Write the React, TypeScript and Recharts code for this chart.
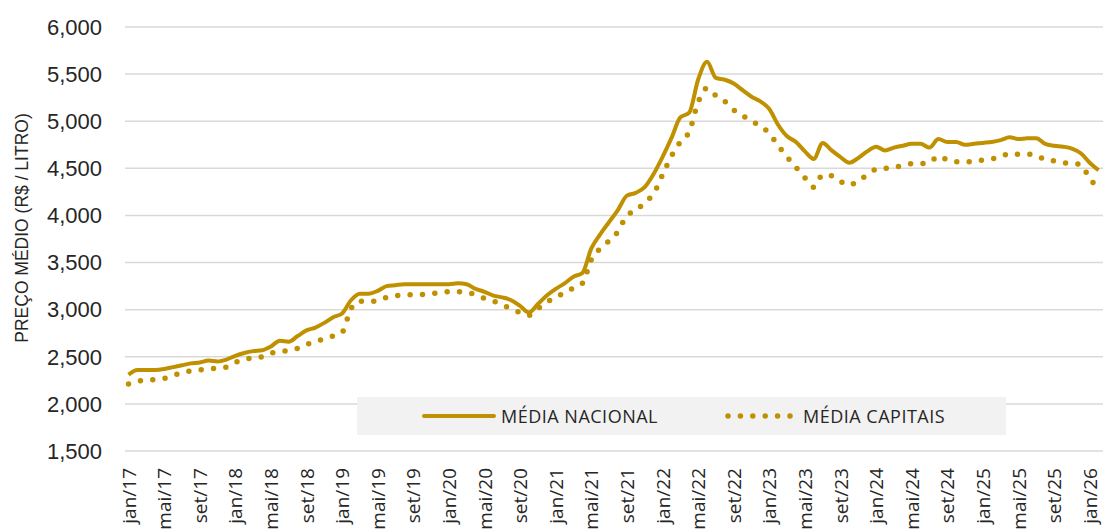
import React from 'react';
import { LineChart, Line, XAxis, YAxis, CartesianGrid, Legend } from 'recharts';

const monthNames = ['jan', 'fev', 'mar', 'abr', 'mai', 'jun', 'jul', 'ago', 'set', 'out', 'nov', 'dez'];
const years = ['17', '18', '19', '20', '21', '22', '23', '24', '25', '26'];

// jan/17 .. fev/26
const categories: string[] = [];
years.forEach((yy) => monthNames.forEach((m) => categories.push(`${m}/${yy}`)));
categories.splice(110);

const mediaNacional = [
  2.31, 2.36, 2.36, 2.36, 2.37, 2.39, 2.41, 2.43, 2.44, 2.46, 2.45, 2.47,
  2.51, 2.54, 2.56, 2.57, 2.61, 2.67, 2.66, 2.72, 2.78, 2.81, 2.86, 2.92,
  2.96, 3.1, 3.17, 3.17, 3.2, 3.25, 3.26, 3.27, 3.27, 3.27, 3.27, 3.27,
  3.27, 3.28, 3.27, 3.22, 3.19, 3.15, 3.13, 3.1, 3.04, 2.97, 3.06, 3.15,
  3.22, 3.28, 3.35, 3.39, 3.65, 3.8, 3.93, 4.06, 4.21, 4.24, 4.3, 4.44,
  4.62, 4.82, 5.04, 5.09, 5.44, 5.63, 5.46, 5.44, 5.4, 5.33, 5.26, 5.21,
  5.13, 4.96, 4.84, 4.78, 4.68, 4.6, 4.77, 4.69, 4.62, 4.56, 4.61, 4.68,
  4.73, 4.69, 4.72, 4.74, 4.76, 4.76, 4.72, 4.81, 4.78, 4.78, 4.75, 4.76,
  4.77, 4.78, 4.8, 4.83, 4.81, 4.82, 4.82, 4.76, 4.74, 4.73, 4.71, 4.66,
  4.56, 4.48,
];

const mediaCapitais = [
  2.21, 2.24, 2.25, 2.26, 2.27, 2.3, 2.33, 2.35, 2.36, 2.37, 2.38, 2.39,
  2.44, 2.47, 2.49, 2.5, 2.54, 2.55, 2.57, 2.59, 2.63, 2.66, 2.69, 2.72,
  2.76, 3.01, 3.09, 3.08, 3.1, 3.13, 3.15, 3.15, 3.16, 3.16, 3.17, 3.18,
  3.19, 3.19, 3.18, 3.16, 3.12, 3.09, 3.05, 3.01, 2.97, 2.94, 3.01, 3.08,
  3.13, 3.18, 3.23, 3.28, 3.53, 3.65, 3.73, 3.83, 4.0, 4.05, 4.14, 4.23,
  4.43, 4.63, 4.78, 4.89, 5.2, 5.35, 5.27, 5.21, 5.12, 5.06, 5.0, 4.95,
  4.87, 4.74, 4.62, 4.51, 4.4, 4.3, 4.43, 4.42, 4.36, 4.32, 4.37, 4.43,
  4.49, 4.5, 4.51, 4.53, 4.55, 4.55, 4.56, 4.63, 4.59, 4.57, 4.57, 4.57,
  4.59, 4.6, 4.62, 4.66, 4.65, 4.65, 4.64, 4.59, 4.58, 4.56, 4.55, 4.54,
  4.39, 4.29,
];

const yTicks = [1.5, 2, 2.5, 3, 3.5, 4, 4.5, 5, 5.5, 6];

const data = categories.map((mes, i) => ({
  mes,
  nacional: mediaNacional[i],
  capitais: mediaCapitais[i],
}));

const GOLD = '#BF9000';
const TEXT = '#262626';

const XTick = (props: any) => {
  const { x, y, payload } = props;
  return (
    <text
      x={x}
      y={y}
      transform={`rotate(-90 ${x} ${y})`}
      textAnchor="end"
      dominantBaseline="central"
      fill={TEXT}
      fontSize={19}
      fontFamily="'Open Sans', sans-serif"
    >
      {payload.value}
    </text>
  );
};

const YTitle = () => (
  <text
    x={22}
    y={228}
    transform="rotate(-90 22 228)"
    textAnchor="middle"
    dominantBaseline="central"
    fill={TEXT}
    fontSize={17.5}
    fontFamily="'Liberation Sans', Arial, sans-serif"
  >
    PREÇO MÉDIO (R$ / LITRO)
  </text>
);

const LegendBox = () => (
  <div
    style={{
      position: 'relative',
      width: 649,
      height: 38,
      background: '#F2F2F2',
      fontFamily: "'Open Sans', sans-serif",
      fontSize: 18,
      letterSpacing: 0.5,
      color: TEXT,
    }}
  >
    <svg width={649} height={38} style={{ position: 'absolute', left: 0, top: 0 }}>
      <line x1={67} y1={19} x2={137} y2={19} stroke={GOLD} strokeWidth={4} strokeLinecap="round" />
      <line
        x1={371}
        y1={19}
        x2={434}
        y2={19}
        stroke={GOLD}
        strokeWidth={5.5}
        strokeLinecap="round"
        strokeDasharray="0 12.4"
      />
    </svg>
    <span style={{ position: 'absolute', left: 144, top: 6, lineHeight: '26px' }}>MÉDIA NACIONAL</span>
    <span style={{ position: 'absolute', left: 446, top: 6, lineHeight: '26px' }}>MÉDIA CAPITAIS</span>
  </div>
);

export default function App() {
  return (
    <div style={{ position: 'absolute', left: 0, top: 0, width: 1103, height: 529, background: '#fff' }}>
      <LineChart width={1103} height={529} data={data} margin={{ top: 27, right: 0, bottom: 0, left: 0 }}>
        <CartesianGrid vertical={false} stroke="#D9D9D9" strokeWidth={1.5} />
        <XAxis
          dataKey="mes"
          height={78}
          interval={3}
          axisLine={false}
          tickLine={false}
          tickSize={0}
          tickMargin={17}
          padding={{ left: 3.5, right: 4.4 }}
          tick={<XTick />}
        />
        <YAxis
          width={125}
          domain={[1.5, 6]}
          ticks={yTicks}
          axisLine={false}
          tickLine={false}
          tickSize={0}
          tickMargin={23}
          tickFormatter={(v: number) => v.toFixed(3).replace('.', ',')}
          tick={{ fill: TEXT, fontSize: 22, fontFamily: "'Liberation Sans', Arial, sans-serif" }}
          label={<YTitle />}
        />
        <Legend
          verticalAlign="middle"
          align="center"
          content={<LegendBox />}
          wrapperStyle={{ position: 'absolute', left: 357, top: 397, width: 649, height: 38 }}
        />
        <Line
          type="monotone"
          dataKey="nacional"
          name="MÉDIA NACIONAL"
          stroke={GOLD}
          strokeWidth={4}
          dot={false}
          isAnimationActive={false}
        />
        <Line
          type="monotone"
          dataKey="capitais"
          name="MÉDIA CAPITAIS"
          stroke={GOLD}
          strokeWidth={5.5}
          strokeLinecap="round"
          strokeDasharray="0 12.4"
          dot={false}
          isAnimationActive={false}
        />
      </LineChart>
    </div>
  );
}
